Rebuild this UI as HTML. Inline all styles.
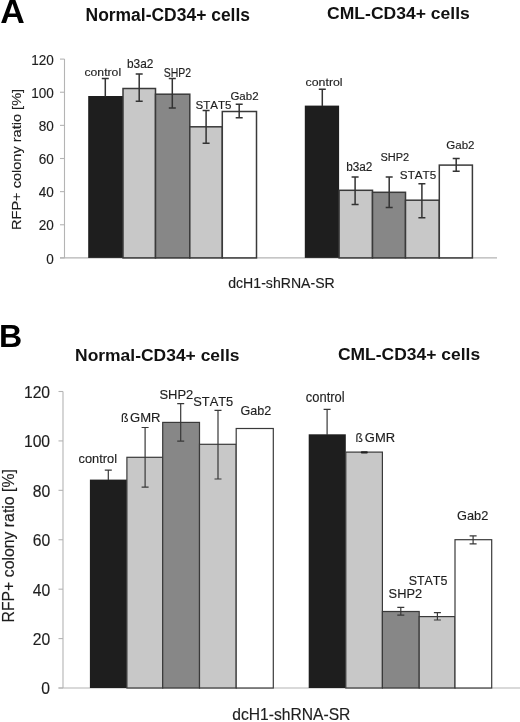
<!DOCTYPE html>
<html><head><meta charset="utf-8"><style>
html,body{margin:0;padding:0;background:#fff;}
svg{display:block;will-change:transform;filter:blur(0.3px);}
text{font-family:"Liberation Sans",sans-serif;font-kerning:none;}
</style></head><body>
<svg width="520" height="722" viewBox="0 0 520 722">
<rect width="520" height="722" fill="#fff"/>
<path d="M64.5 59.1V257.9M60 257.9H497" stroke="#b4b4b4" stroke-width="1.1" fill="none"/>
<path d="M60 257.90H64.5" stroke="#b4b4b4" stroke-width="1.1"/>
<text transform="translate(46.27,263.60) scale(0.9300,1)" font-size="14.6" fill="#1e1e1e" stroke="#1e1e1e" stroke-width="0.15">0</text>
<path d="M60 224.77H64.5" stroke="#b4b4b4" stroke-width="1.1"/>
<text transform="translate(38.74,230.46) scale(0.9300,1)" font-size="14.6" fill="#1e1e1e" stroke="#1e1e1e" stroke-width="0.15">20</text>
<path d="M60 191.63H64.5" stroke="#b4b4b4" stroke-width="1.1"/>
<text transform="translate(38.74,197.33) scale(0.9300,1)" font-size="14.6" fill="#1e1e1e" stroke="#1e1e1e" stroke-width="0.15">40</text>
<path d="M60 158.50H64.5" stroke="#b4b4b4" stroke-width="1.1"/>
<text transform="translate(38.74,164.20) scale(0.9300,1)" font-size="14.6" fill="#1e1e1e" stroke="#1e1e1e" stroke-width="0.15">60</text>
<path d="M60 125.37H64.5" stroke="#b4b4b4" stroke-width="1.1"/>
<text transform="translate(38.74,131.06) scale(0.9300,1)" font-size="14.6" fill="#1e1e1e" stroke="#1e1e1e" stroke-width="0.15">80</text>
<path d="M60 92.23H64.5" stroke="#b4b4b4" stroke-width="1.1"/>
<text transform="translate(31.17,97.93) scale(0.9300,1)" font-size="14.6" fill="#1e1e1e" stroke="#1e1e1e" stroke-width="0.15">100</text>
<path d="M60 59.10H64.5" stroke="#b4b4b4" stroke-width="1.1"/>
<text transform="translate(31.17,64.80) scale(0.9300,1)" font-size="14.6" fill="#1e1e1e" stroke="#1e1e1e" stroke-width="0.15">120</text>
<rect x="88.20" y="96.00" width="34.80" height="161.90" fill="#1e1e1e"/>
<rect x="123.00" y="88.50" width="32.50" height="169.40" fill="#c8c8c8" stroke="#3a3a3a" stroke-width="1.5"/>
<rect x="155.50" y="94.20" width="34.30" height="163.70" fill="#878787" stroke="#3a3a3a" stroke-width="1.5"/>
<rect x="189.80" y="126.80" width="32.50" height="131.10" fill="#c8c8c8" stroke="#3a3a3a" stroke-width="1.5"/>
<rect x="222.30" y="111.50" width="34.20" height="146.40" fill="#ffffff" stroke="#3a3a3a" stroke-width="1.5"/>
<path d="M105.30 78.60V96.50M101.80 78.60H108.80" stroke="#333" stroke-width="1.5" fill="none"/>
<path d="M139.20 74.10V101.30M135.70 74.10H142.70M135.70 101.30H142.70" stroke="#333" stroke-width="1.5" fill="none"/>
<path d="M172.30 78.50V108.00M168.80 78.50H175.80M168.80 108.00H175.80" stroke="#333" stroke-width="1.5" fill="none"/>
<path d="M206.10 110.50V143.20M202.60 110.50H209.60M202.60 143.20H209.60" stroke="#333" stroke-width="1.5" fill="none"/>
<path d="M239.20 104.30V117.70M235.70 104.30H242.70M235.70 117.70H242.70" stroke="#333" stroke-width="1.5" fill="none"/>
<rect x="304.80" y="105.60" width="34.30" height="152.30" fill="#1e1e1e"/>
<rect x="339.10" y="190.30" width="33.40" height="67.60" fill="#c8c8c8" stroke="#3a3a3a" stroke-width="1.5"/>
<rect x="372.50" y="192.30" width="33.00" height="65.60" fill="#878787" stroke="#3a3a3a" stroke-width="1.5"/>
<rect x="405.50" y="200.20" width="33.80" height="57.70" fill="#c8c8c8" stroke="#3a3a3a" stroke-width="1.5"/>
<rect x="439.30" y="165.10" width="33.10" height="92.80" fill="#ffffff" stroke="#3a3a3a" stroke-width="1.5"/>
<path d="M322.30 89.20V106.00M318.80 89.20H325.80" stroke="#333" stroke-width="1.5" fill="none"/>
<path d="M355.10 177.10V204.50M351.60 177.10H358.60M351.60 204.50H358.60" stroke="#333" stroke-width="1.5" fill="none"/>
<path d="M389.20 176.90V207.60M385.70 176.90H392.70M385.70 207.60H392.70" stroke="#333" stroke-width="1.5" fill="none"/>
<path d="M421.90 183.80V217.80M418.40 183.80H425.40M418.40 217.80H425.40" stroke="#333" stroke-width="1.5" fill="none"/>
<path d="M456.20 158.50V171.20M452.70 158.50H459.70M452.70 171.20H459.70" stroke="#333" stroke-width="1.5" fill="none"/>
<text transform="translate(84.48,76.30) scale(1.0342,1)" font-size="11.8" fill="#1e1e1e" stroke="#1e1e1e" stroke-width="0.15">control</text>
<text transform="translate(126.93,67.80) scale(0.9671,1)" font-size="12.3" fill="#1e1e1e" stroke="#1e1e1e" stroke-width="0.15">b3a2</text>
<text transform="translate(163.73,76.70) scale(0.8739,1)" font-size="12.0" fill="#1e1e1e" stroke="#1e1e1e" stroke-width="0.15">SHP2</text>
<text transform="translate(195.48,109.00) scale(1.0239,1)" font-size="11.3" fill="#1e1e1e" stroke="#1e1e1e" stroke-width="0.15">STAT5</text>
<text transform="translate(230.42,99.80) scale(1.0001,1)" font-size="11.5" fill="#1e1e1e" stroke="#1e1e1e" stroke-width="0.15">Gab2</text>
<text transform="translate(305.58,86.10) scale(1.0460,1)" font-size="11.8" fill="#1e1e1e" stroke="#1e1e1e" stroke-width="0.15">control</text>
<text transform="translate(346.13,170.70) scale(0.9834,1)" font-size="12.0" fill="#1e1e1e" stroke="#1e1e1e" stroke-width="0.15">b3a2</text>
<text transform="translate(380.40,161.10) scale(0.9568,1)" font-size="11.5" fill="#1e1e1e" stroke="#1e1e1e" stroke-width="0.15">SHP2</text>
<text transform="translate(399.87,178.80) scale(1.0176,1)" font-size="11.5" fill="#1e1e1e" stroke="#1e1e1e" stroke-width="0.15">STAT5</text>
<text transform="translate(446.32,148.80) scale(1.0216,1)" font-size="11.3" fill="#1e1e1e" stroke="#1e1e1e" stroke-width="0.15">Gab2</text>
<text transform="translate(0.30,22.50) scale(1.0289,1)" font-size="33" font-weight="bold" fill="#000">A</text>
<text transform="translate(85.52,21.40) scale(0.9815,1)" font-size="17.8" font-weight="bold" fill="#111">Normal-CD34+ cells</text>
<text transform="translate(327.10,19.30) scale(1.0141,1)" font-size="17.3" font-weight="bold" fill="#111">CML-CD34+ cells</text>
<text transform="translate(228.20,287.60) scale(0.9802,1)" font-size="14.4" fill="#1e1e1e" stroke="#1e1e1e" stroke-width="0.15">dcH1-shRNA-SR</text>
<text transform="translate(20.80,230.00) rotate(-90) scale(1.0708,1)" font-size="13.6" fill="#1e1e1e" stroke="#1e1e1e" stroke-width="0.15">RFP+ colony ratio [%]</text>
<path d="M63 391.5V688M58.5 688H520" stroke="#b4b4b4" stroke-width="1.1" fill="none"/>
<path d="M58.5 688.00H63" stroke="#b4b4b4" stroke-width="1.1"/>
<text transform="translate(41.37,694.46) scale(0.9350,1)" font-size="16.8" fill="#1e1e1e" stroke="#1e1e1e" stroke-width="0.15">0</text>
<path d="M58.5 638.58H63" stroke="#b4b4b4" stroke-width="1.1"/>
<text transform="translate(32.65,645.05) scale(0.9350,1)" font-size="16.8" fill="#1e1e1e" stroke="#1e1e1e" stroke-width="0.15">20</text>
<path d="M58.5 589.17H63" stroke="#b4b4b4" stroke-width="1.1"/>
<text transform="translate(32.65,595.63) scale(0.9350,1)" font-size="16.8" fill="#1e1e1e" stroke="#1e1e1e" stroke-width="0.15">40</text>
<path d="M58.5 539.75H63" stroke="#b4b4b4" stroke-width="1.1"/>
<text transform="translate(32.65,546.21) scale(0.9350,1)" font-size="16.8" fill="#1e1e1e" stroke="#1e1e1e" stroke-width="0.15">60</text>
<path d="M58.5 490.33H63" stroke="#b4b4b4" stroke-width="1.1"/>
<text transform="translate(32.65,496.80) scale(0.9350,1)" font-size="16.8" fill="#1e1e1e" stroke="#1e1e1e" stroke-width="0.15">80</text>
<path d="M58.5 440.92H63" stroke="#b4b4b4" stroke-width="1.1"/>
<text transform="translate(23.90,447.38) scale(0.9350,1)" font-size="16.8" fill="#1e1e1e" stroke="#1e1e1e" stroke-width="0.15">100</text>
<path d="M58.5 391.50H63" stroke="#b4b4b4" stroke-width="1.1"/>
<text transform="translate(23.90,397.96) scale(0.9350,1)" font-size="16.8" fill="#1e1e1e" stroke="#1e1e1e" stroke-width="0.15">120</text>
<rect x="89.90" y="479.60" width="37.00" height="208.40" fill="#1e1e1e"/>
<rect x="126.90" y="457.30" width="35.80" height="230.70" fill="#c8c8c8" stroke="#3a3a3a" stroke-width="1.2"/>
<rect x="162.70" y="422.40" width="36.80" height="265.60" fill="#878787" stroke="#3a3a3a" stroke-width="1.2"/>
<rect x="199.50" y="444.30" width="36.70" height="243.70" fill="#c8c8c8" stroke="#3a3a3a" stroke-width="1.2"/>
<rect x="236.20" y="428.50" width="37.10" height="259.50" fill="#ffffff" stroke="#3a3a3a" stroke-width="1.2"/>
<path d="M108.30 470.10V480.00M104.80 470.10H111.80" stroke="#383838" stroke-width="1.2" fill="none"/>
<path d="M145.10 427.50V487.10M141.60 427.50H148.60M141.60 487.10H148.60" stroke="#383838" stroke-width="1.2" fill="none"/>
<path d="M180.70 403.70V441.20M177.20 403.70H184.20M177.20 441.20H184.20" stroke="#383838" stroke-width="1.2" fill="none"/>
<path d="M218.00 410.30V479.00M214.50 410.30H221.50M214.50 479.00H221.50" stroke="#383838" stroke-width="1.2" fill="none"/>
<rect x="308.70" y="434.30" width="37.10" height="253.70" fill="#1e1e1e"/>
<rect x="345.80" y="452.10" width="36.60" height="235.90" fill="#c8c8c8" stroke="#3a3a3a" stroke-width="1.2"/>
<rect x="382.40" y="611.50" width="36.80" height="76.50" fill="#878787" stroke="#3a3a3a" stroke-width="1.2"/>
<rect x="419.20" y="616.60" width="35.80" height="71.40" fill="#c8c8c8" stroke="#3a3a3a" stroke-width="1.2"/>
<rect x="455.00" y="539.70" width="36.70" height="148.30" fill="#ffffff" stroke="#3a3a3a" stroke-width="1.2"/>
<path d="M327.10 409.40V435.00M323.60 409.40H330.60" stroke="#383838" stroke-width="1.2" fill="none"/>
<rect x="360.8" y="451.3" width="7" height="2.2" rx="1" fill="#222"/>
<path d="M400.80 607.40V615.10M397.30 607.40H404.30M397.30 615.10H404.30" stroke="#383838" stroke-width="1.2" fill="none"/>
<path d="M437.40 612.60V620.00M433.90 612.60H440.90M433.90 620.00H440.90" stroke="#383838" stroke-width="1.2" fill="none"/>
<path d="M473.10 535.80V543.80M469.60 535.80H476.60M469.60 543.80H476.60" stroke="#383838" stroke-width="1.2" fill="none"/>
<text transform="translate(78.55,463.40) scale(0.9717,1)" font-size="13.2" fill="#1e1e1e" stroke="#1e1e1e" stroke-width="0.15">control</text>
<text transform="translate(120.97,421.90) scale(0.9347,1)" font-size="13.2" fill="#1e1e1e" stroke="#1e1e1e" stroke-width="0.15">ß</text>
<text transform="translate(130.05,421.90) scale(0.9898,1)" font-size="13.2" fill="#1e1e1e" stroke="#1e1e1e" stroke-width="0.15">GMR</text>
<text transform="translate(159.42,399.20) scale(0.9840,1)" font-size="13.2" fill="#1e1e1e" stroke="#1e1e1e" stroke-width="0.15">SHP2</text>
<text transform="translate(193.22,406.20) scale(0.9742,1)" font-size="13.2" fill="#1e1e1e" stroke="#1e1e1e" stroke-width="0.15">STAT5</text>
<text transform="translate(240.57,415.40) scale(0.9973,1)" font-size="12.6" fill="#1e1e1e" stroke="#1e1e1e" stroke-width="0.15">Gab2</text>
<text transform="translate(305.85,401.60) scale(0.9302,1)" font-size="13.9" fill="#1e1e1e" stroke="#1e1e1e" stroke-width="0.15">control</text>
<text transform="translate(355.58,441.90) scale(0.9196,1)" font-size="13.2" fill="#1e1e1e" stroke="#1e1e1e" stroke-width="0.15">ß</text>
<text transform="translate(364.85,441.90) scale(0.9830,1)" font-size="13.2" fill="#1e1e1e" stroke="#1e1e1e" stroke-width="0.15">GMR</text>
<text transform="translate(388.62,598.20) scale(0.9720,1)" font-size="13.2" fill="#1e1e1e" stroke="#1e1e1e" stroke-width="0.15">SHP2</text>
<text transform="translate(408.64,584.60) scale(0.9442,1)" font-size="13.2" fill="#1e1e1e" stroke="#1e1e1e" stroke-width="0.15">STAT5</text>
<text transform="translate(457.06,519.70) scale(0.9681,1)" font-size="13.2" fill="#1e1e1e" stroke="#1e1e1e" stroke-width="0.15">Gab2</text>
<text transform="translate(-0.97,346.70) scale(1.0041,1)" font-size="32" font-weight="bold" fill="#000">B</text>
<text transform="translate(75.02,361.00) scale(1.0093,1)" font-size="17.3" font-weight="bold" fill="#111">Normal-CD34+ cells</text>
<text transform="translate(337.95,359.70) scale(1.0101,1)" font-size="17.3" font-weight="bold" fill="#111">CML-CD34+ cells</text>
<text transform="translate(232.23,719.60) scale(0.9784,1)" font-size="16" fill="#1e1e1e" stroke="#1e1e1e" stroke-width="0.15">dcH1-shRNA-SR</text>
<text transform="translate(13.70,622.51) rotate(-90) scale(1.0141,1)" font-size="15.6" fill="#1e1e1e" stroke="#1e1e1e" stroke-width="0.15">RFP+ colony ratio [%]</text>
</svg>
</body></html>
